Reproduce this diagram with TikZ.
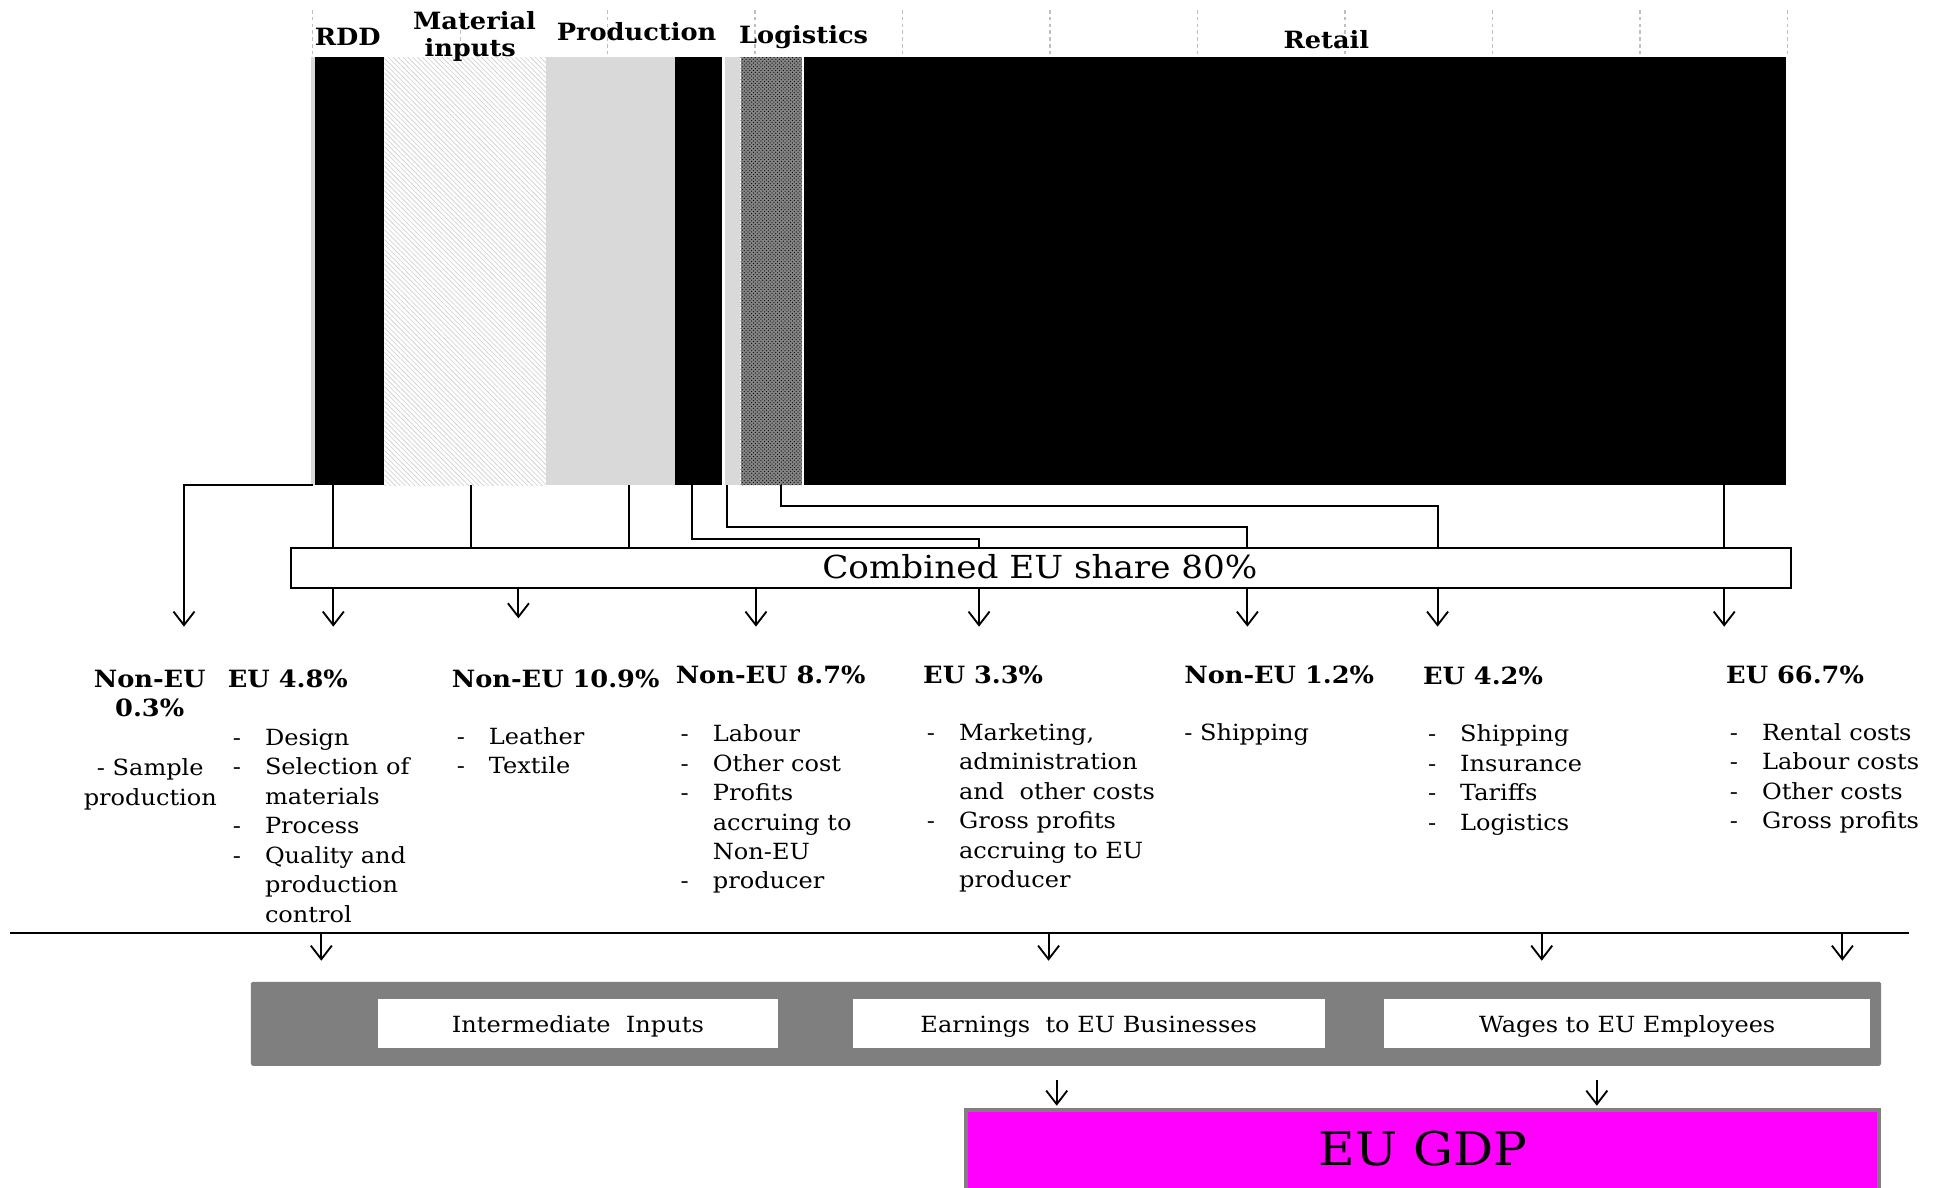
\documentclass[tikz,border=0pt]{standalone}
\usepackage{fontspec}
\setmainfont{DejaVu Serif}[FakeStretch=1.08]
\usetikzlibrary{arrows.meta,patterns,patterns.meta}

\definecolor{lgray}{HTML}{D9D9D9}
\definecolor{gridc}{HTML}{BFBFBF}
\definecolor{boxgray}{HTML}{7F7F7F}
\definecolor{gdpc}{HTML}{FF00FF}
\definecolor{hatchc}{HTML}{CCCCCC}
\definecolor{xgray}{HTML}{858585}

\newcommand\bodyfont{\fontsize{18}{23.8}\selectfont}
\newcommand\headfont{\bfseries\fontsize{19.2}{24}\selectfont}
\newcommand\dashlist[1]{\begin{tabular}[t]{@{}p{26pt}@{}l@{}}#1\end{tabular}}
\newcommand\centlist[1]{\begin{tabular}[t]{@{}c@{}}#1\end{tabular}}

\tikzset{
  seg/.style={rectangle, inner sep=0pt, outer sep=0pt, anchor=north west, minimum height=346pt},
  conn/.style={line width=1.5pt},
  arr/.style={conn, -{Straight Barb[length=11pt,width=17pt]}},
  head/.style={font=\headfont, inner sep=0pt, anchor=base west},
  lst/.style={font=\bodyfont, inner sep=0pt, anchor=base west},
  toplbl/.style={font=\headfont, inner sep=0pt, anchor=base},
  gridln/.style={gridc, line width=1pt, dash pattern=on 3pt off 2.5pt},
  plain/.style={rectangle, inner sep=0pt, outer sep=0pt, anchor=north west},
  boxtxt/.style={font=\fontsize{18}{22}\selectfont, inner sep=0pt, anchor=base},
}

\begin{document}
\begin{tikzpicture}[x=1pt,y=-1pt]
\useasboundingbox (0,0) rectangle (1568,960);

% chart gridlines above the bar
\foreach \k in {0,...,10}
  \draw[gridln] (252.7+119.2*\k,8) -- (252.7+119.2*\k,46.3);

% stacked value-chain bar
\node[seg, fill=lgray, minimum width=3.5] (sA) at (251.1,46.3) {};
\node[seg, fill=black, minimum width=56] (sB) at (254.6,46.3) {};
\node[seg, pattern={Lines[angle=-45,distance=2.8pt,line width=0.5pt]}, pattern color=hatchc, minimum width=130.7] (sC) at (310.6,46.3) {};
\node[seg, fill=lgray, minimum width=104.3] (sD) at (441.3,46.3) {};
\node[seg, fill=black, minimum width=38.2] (sE) at (545.6,46.3) {};
\node[seg, fill=lgray, minimum width=12] (sF) at (586,46.3) {};
\node[seg, fill=xgray, postaction={pattern=crosshatch dots, pattern color=black}, minimum width=49.3] (sG) at (598.7,46.3) {};
\node[seg, fill=black, minimum width=793.3] (sH) at (650,46.3) {};

% stage labels
\node[toplbl] (lRDD) at (281,36.5) {RDD};
\node[toplbl] (lMat) at (383.5,24) {Material};
\node[toplbl] (lInp) at (380,45.5) {inputs};
\node[toplbl] (lProd) at (514.5,32.5) {Production};
\node[toplbl] (lLog) at (649.5,35) {Logistics};
\node[toplbl] (lRet) at (1072,39.5) {Retail};

% combined share box
\node[draw, line width=1.5pt, fill=white, inner sep=0pt, outer sep=0pt,
      minimum width=1212.5, minimum height=32.5] (comb) at (841.25,459.25) {};
\node[font=\fontsize{25.6}{30}\selectfont, inner sep=0pt, anchor=base] (combT) at (840.5,467.5) {Combined EU share 80\%};

% connector start points on the bar
\coordinate (pA) at (252.7,0 |- sA.south);
\coordinate (pB) at (269.4,0 |- sB.south);
\coordinate (pC) at (380.4,0 |- sC.south);
\coordinate (pD) at (508.7,0 |- sD.south);
\coordinate (pE) at (559,0 |- sE.south);
\coordinate (pF) at (587.9,0 |- sF.south);
\coordinate (pG) at (631,0 |- sG.south);
\coordinate (pH) at (1393.6,0 |- sH.south);
% bends
\coordinate (kE) at (791.3,435.7);
\coordinate (kF) at (1008.2,425.7);
\coordinate (kG) at (1161.9,409);
% arrow tips
\coordinate (tA) at (148.7,506.5);
\coordinate (tB) at (269.4,506.5);
\coordinate (tC) at (419,499.8);
\coordinate (tD) at (611,506.5);
\coordinate (tE) at (791.3,506.5);
\coordinate (tF) at (1008.2,506.5);
\coordinate (tG) at (1161.9,506.5);
\coordinate (tH) at (1393.6,506.5);

\draw[arr] (pA) -| (tA);
\draw[conn] (pB) -- (pB |- comb.north);
\draw[conn] (pC) -- (pC |- comb.north);
\draw[conn] (pD) -- (pD |- comb.north);
\draw[conn] (pE) |- (kE) -- (kE |- comb.north);
\draw[conn] (pF) |- (kF) -- (kF |- comb.north);
\draw[conn] (pG) |- (kG) -- (kG |- comb.north);
\draw[conn] (pH) -- (pH |- comb.north);
\foreach \t in {tB,tC,tD,tE,tF,tG,tH}
  \draw[arr] (\t |- comb.south) -- (\t);

% column headings and items
\node[font=\headfont, inner sep=0pt, anchor=base] (hA) at (121,555.5) {\centlist{Non-EU\\0.3\%}};
\node[font=\bodyfont, inner sep=0pt, anchor=base] (lA) at (121.5,627) {\centlist{- Sample\\production}};

\node[head] (hB) at (184,555.5) {EU 4.8\%};
\node[lst] (lB) at (188,602.5) {\dashlist{-&Design\\-&Selection of\\&materials\\-&Process\\-&Quality and\\&production\\&control}};

\node[head] (hC) at (365,555.5) {Non-EU 10.9\%};
\node[lst] (lC) at (369,601.5) {\dashlist{-&Leather\\-&Textile}};

\node[head] (hD) at (546,552.5) {Non-EU 8.7\%};
\node[lst] (lD) at (550,599.5) {\dashlist{-&Labour\\-&Other cost\\-&Profits\\&accruing to\\&Non-EU\\-&producer}};

\node[head] (hE) at (746,552.5) {EU 3.3\%};
\node[lst] (lE) at (749,598.5) {\dashlist{-&Marketing,\\&administration\\&and~ other costs\\-&Gross profits\\&accruing to EU\\&producer}};

\node[head] (hF) at (957,552.5) {Non-EU 1.2\%};
\node[lst] (lF) at (957,598.5) {- Shipping};

\node[head] (hG) at (1150,553) {EU 4.2\%};
\node[lst] (lG) at (1154,599.5) {\dashlist{-&Shipping\\-&Insurance\\-&Tariffs\\-&Logistics}};

\node[head] (hH) at (1395,552.5) {EU 66.7\%};
\node[lst] (lH) at (1398,598.5) {\dashlist{-&Rental costs\\-&Labour costs\\-&Other costs\\-&Gross profits}};

% separator line and flows into income categories
\coordinate (sepL) at (8,754.4);
\coordinate (sepR) at (1543,754.4);
\draw[conn] (sepL) -- (sepR);
\foreach \x [count=\i] in {259.7,847.5,1246.1,1489.1} {
  \coordinate (q\i) at (\x,754.4);
  \coordinate (u\i) at (\x,776.5);
  \draw[arr] (q\i) -- (u\i);
}

% income categories
\node[plain, fill=boxgray, rounded corners=1.5pt, minimum width=1317.7, minimum height=68] (inc) at (202.7,793.5) {};
\node[plain, fill=white, minimum width=323.6, minimum height=39] (bInt) at (305.3,807.8) {};
\node[plain, fill=white, minimum width=381.3, minimum height=39] (bEarn) at (689.3,807.8) {};
\node[plain, fill=white, minimum width=392.6, minimum height=39] (bWage) at (1118.9,807.8) {};
\node[boxtxt] (tInt) at (bInt.center |- 0,834.4) {Intermediate~ Inputs};
\node[boxtxt] (tEarn) at (bEarn.center |- 0,834.4) {Earnings~ to EU Businesses};
\node[boxtxt] (tWage) at (bWage.center |- 0,834.4) {Wages to EU Employees};

% flows into GDP
\coordinate (g1s) at (854.1,873);
\coordinate (g1e) at (854.1,893.7);
\coordinate (g2s) at (1290.6,873);
\coordinate (g2e) at (1290.6,893.7);
\draw[arr] (g1s) -- (g1e);
\draw[arr] (g2s) -- (g2e);

\node[plain, fill=gdpc, draw=boxgray, line width=3pt, minimum width=738.4, minimum height=110] (gdp) at (780.5,897.3) {};
\node[font=\fontsize{37.5}{42}\selectfont, inner sep=0pt, anchor=base] (gdpT) at (1150,941.6) {EU GDP};
\end{tikzpicture}
\end{document}
